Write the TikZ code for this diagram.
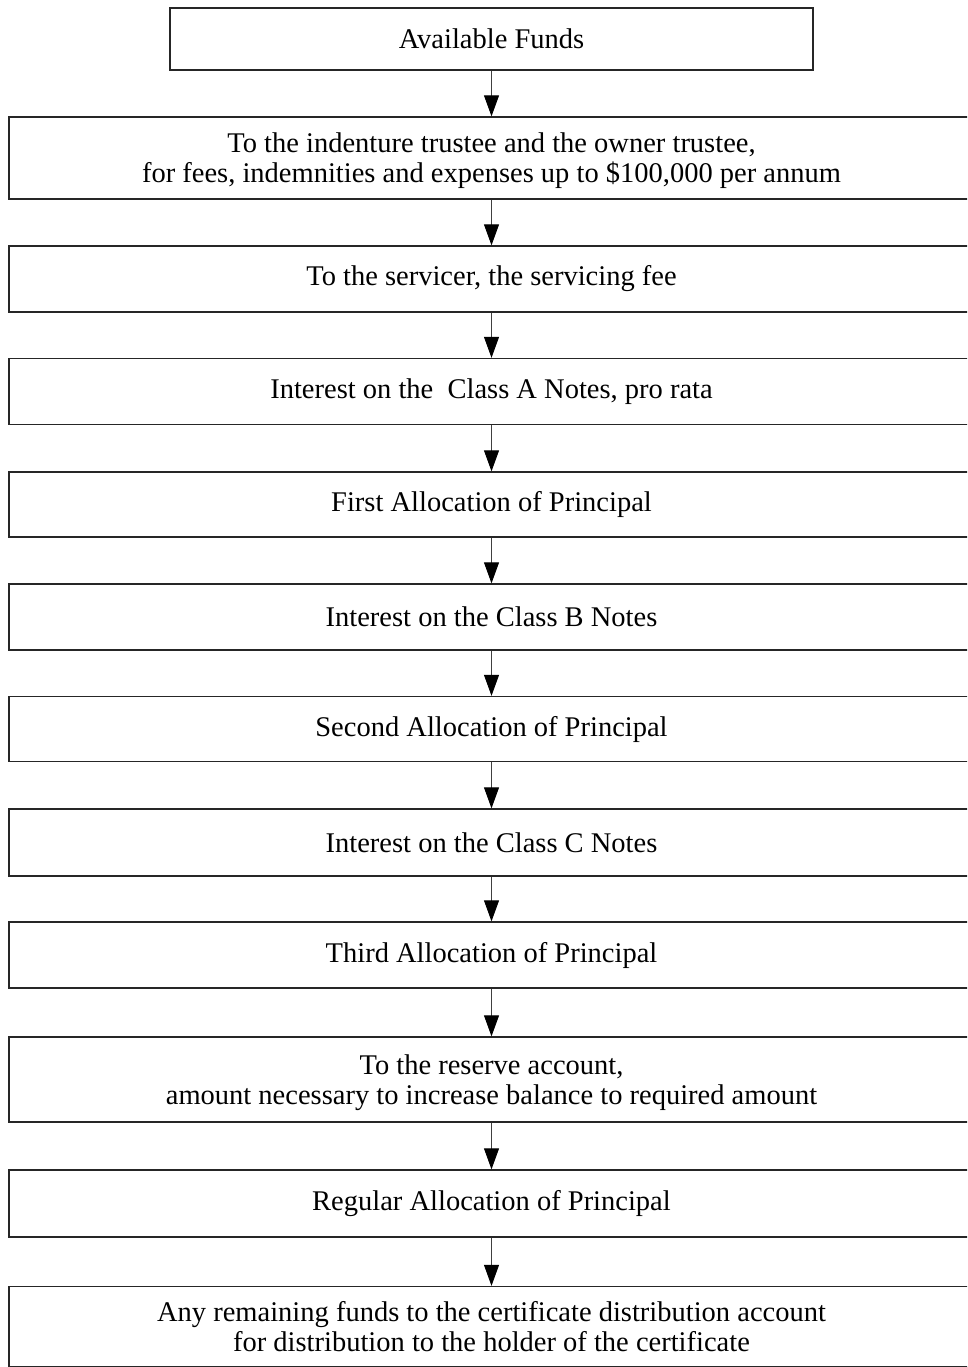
\documentclass[tikz,border=0pt]{standalone}
\usepackage{fontspec}
\setmainfont{Liberation Serif}
\usetikzlibrary{arrows.meta}
\tikzset{
  box/.style={draw=black!85, line width=1.3pt, align=center, inner sep=0pt,
    font=\fontsize{28.5}{30}\selectfont},
  wide/.style={box, minimum width=965pt},
  flow/.style={draw=black!75, line width=0.9pt,
    -{Triangle[length=21pt,width=15pt,color=black,fill=black]}}
}
\begin{document}
\begin{tikzpicture}[x=1pt,y=-1pt]
\useasboundingbox (0,0) rectangle (967,1367);
\clip (0,0) rectangle (967,1367);
\node[box, minimum width=643pt, minimum height=62pt] (b0) at (491.5,39) {Available Funds};
\node[wide, minimum height=82pt, text depth=0pt] (b1) at (491.5,158) {To the indenture trustee and the owner trustee,\\for fees, indemnities and expenses up to \$100,000 per annum};
\node[wide, minimum height=66pt] (b2) at (491.5,279) {To the servicer, the servicing fee};
\node[wide, minimum height=66pt] (b3) at (491.5,391.5) {Interest on the\ \ Class A Notes, pro rata};
\node[wide, minimum height=65pt] (b4) at (491.5,504.5) {First Allocation of Principal};
\node[wide, minimum height=66pt] (b5) at (491.5,617) {Interest on the Class B Notes};
\node[wide, minimum height=65pt] (b6) at (491.5,729) {Second Allocation of Principal};
\node[wide, minimum height=67pt] (b7) at (491.5,842.5) {Interest on the Class C Notes};
\node[wide, minimum height=66pt] (b8) at (491.5,955) {Third Allocation of Principal};
\node[wide, minimum height=85pt, text depth=0pt] (b9) at (491.5,1079.5) {To the reserve account,\\amount necessary to increase balance to required amount};
\node[wide, minimum height=67pt] (b10) at (491.5,1203.5) {Regular Allocation of Principal};
\node[wide, minimum height=80pt] (b11) at (491.5,1326.5) {Any remaining funds to the certificate distribution account\\for distribution to the holder of the certificate};
\draw[flow] (b0) -- (b1);
\draw[flow] (b1) -- (b2);
\draw[flow] (b2) -- (b3);
\draw[flow] (b3) -- (b4);
\draw[flow] (b4) -- (b5);
\draw[flow] (b5) -- (b6);
\draw[flow] (b6) -- (b7);
\draw[flow] (b7) -- (b8);
\draw[flow] (b8) -- (b9);
\draw[flow] (b9) -- (b10);
\draw[flow] (b10) -- (b11);
\end{tikzpicture}
\end{document}
